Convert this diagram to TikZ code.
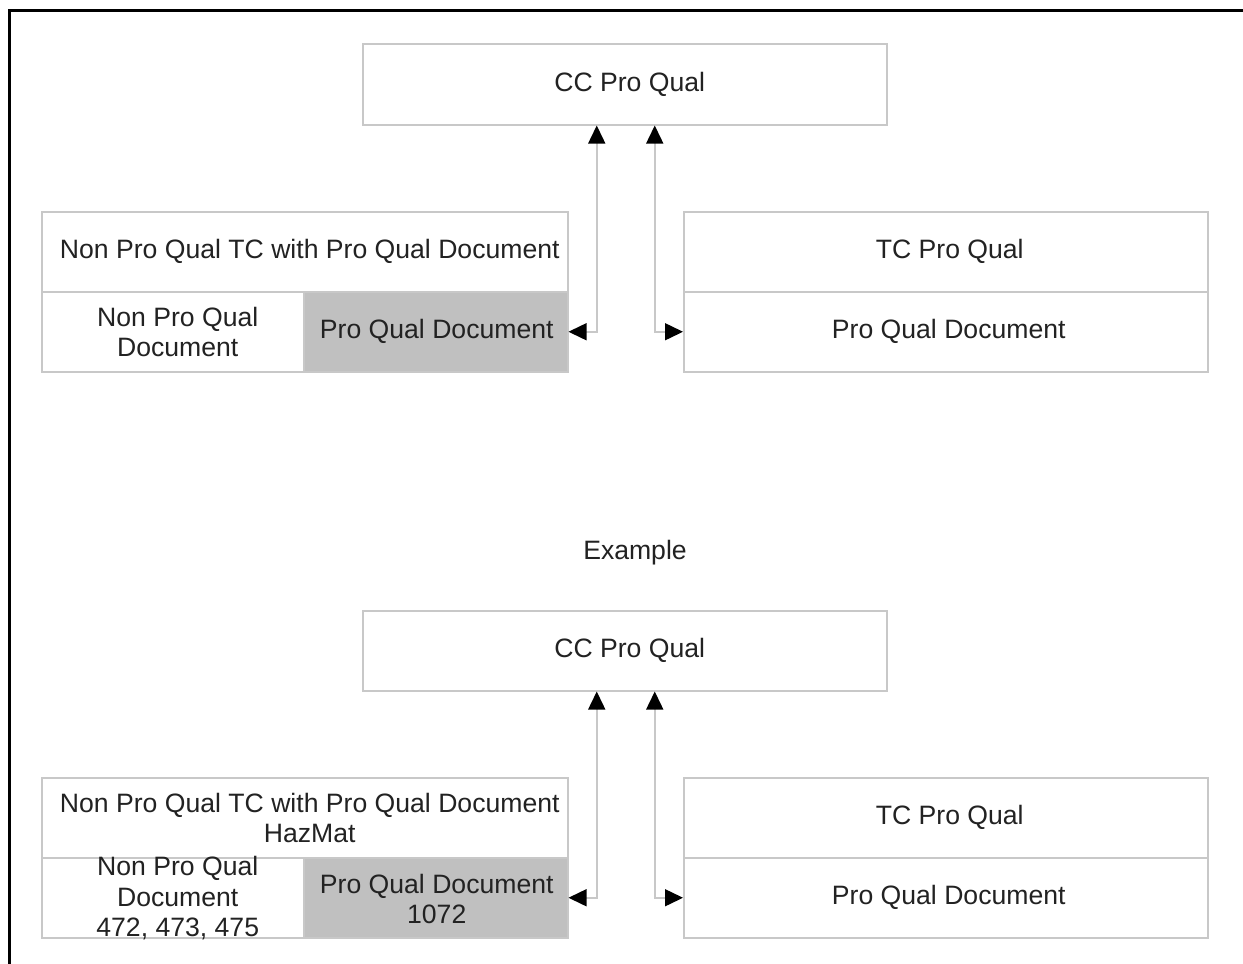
\documentclass[tikz,border=0pt]{standalone}
\usepackage{fontspec}
\setmainfont{Liberation Sans}
\usetikzlibrary{arrows.meta}
\definecolor{boxline}{HTML}{C8C8C8}
\definecolor{cellgray}{HTML}{C0C0C0}
\definecolor{txt}{HTML}{222222}
\begin{document}
\begin{tikzpicture}[x=1pt,y=-1pt,
  box/.style={draw=boxline, line width=1.5pt, fill=white, anchor=north west, inner sep=0pt},
  graycell/.style={box, fill=cellgray},
  lbl/.style={text=txt, align=center, font=\fontsize{26.6}{30.5}\selectfont, inner sep=0pt},
  conn/.style={draw=boxline, line width=1.5pt,
    {Triangle[length=18pt,width=17pt,color=black]}-{Triangle[length=18pt,width=17pt,color=black]}}
]
\useasboundingbox (0,0) rectangle (1243,964);
\fill[white] (0,0) rectangle (1243,964);
\draw[line width=3pt] (9,966) -- (9,10) -- (1245,10);

% ---------- upper diagram ----------
\node[box, minimum width=524pt, minimum height=81pt] (cc1) at (362,43) {};
\node[lbl] (cc1t) at ([xshift=5pt]cc1.center) {CC Pro Qual};
\node[box, minimum width=526pt, minimum height=80pt] (h1) at (41,211) {};
\node[lbl] (h1t) at ([xshift=5pt]h1.center) {Non Pro Qual TC with Pro Qual Document};
\node[box, minimum width=262pt, minimum height=80pt] (n1) at (41,291) {};
\node[lbl] (n1t) at ([xshift=5pt]n1.center) {Non Pro Qual\\Document};
\node[graycell, minimum width=264pt, minimum height=80pt] (p1) at (303,291) {};
\node[lbl] (p1t) at ([xshift=1pt]p1.center) {Pro Qual Document};
\node[box, minimum width=524pt, minimum height=80pt] (t1) at (683,211) {};
\node[lbl] (t1t) at ([xshift=4pt]t1.center) {TC Pro Qual};
\node[box, minimum width=524pt, minimum height=80pt] (q1) at (683,291) {};
\node[lbl] (q1t) at ([xshift=3pt]q1.center) {Pro Qual Document};

\draw[conn] (p1.east) -| ([xshift=-28pt]cc1.south);
\draw[conn] (q1.west) -| ([xshift=30pt]cc1.south);

\node[lbl] (ex) at (635,553) {Example};

% ---------- lower diagram ----------
\node[box, minimum width=524pt, minimum height=80pt] (cc2) at (362,610) {};
\node[lbl] (cc2t) at ([xshift=5pt]cc2.center) {CC Pro Qual};
\node[box, minimum width=526pt, minimum height=80pt] (h2) at (41,777) {};
\node[lbl] (h2t) at ([xshift=5pt]h2.center) {Non Pro Qual TC with Pro Qual Document\\HazMat};
\node[box, minimum width=262pt, minimum height=80pt] (n2) at (41,857) {};
\node[lbl] (n2t) at ([xshift=5pt,yshift=-0.5pt]n2.center) {Non Pro Qual\\Document\\472, 473, 475};
\node[graycell, minimum width=264pt, minimum height=80pt] (p2) at (303,857) {};
\node[lbl] (p2t) at ([xshift=1pt,yshift=-1pt]p2.center) {Pro Qual Document\\1072};
\node[box, minimum width=524pt, minimum height=80pt] (t2) at (683,777) {};
\node[lbl] (t2t) at ([xshift=4pt]t2.center) {TC Pro Qual};
\node[box, minimum width=524pt, minimum height=80pt] (q2) at (683,857) {};
\node[lbl] (q2t) at ([xshift=3pt]q2.center) {Pro Qual Document};

\draw[conn] (p2.east) -| ([xshift=-28pt]cc2.south);
\draw[conn] (q2.west) -| ([xshift=30pt]cc2.south);
\end{tikzpicture}
\end{document}
